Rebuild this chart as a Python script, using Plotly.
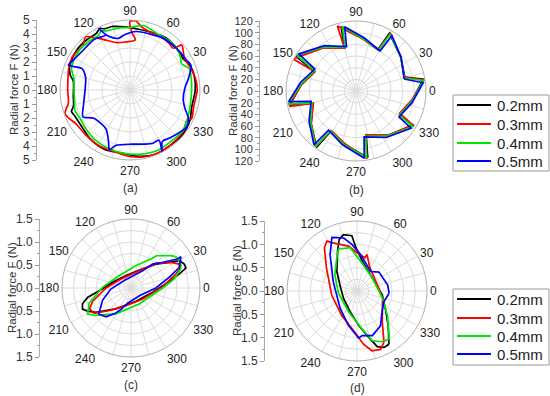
import plotly.graph_objects as go

W, H = 550, 396
series_names = ['0.2mm', '0.3mm', '0.4mm', '0.5mm']
series_colors = ['#000000', '#ff0000', '#00e600', '#0000ff']

# ---------------- panel (a) ----------------
a_black_theta = [0, 13, 22, 31, 42, 55, 69, 82, 95, 105, 113, 116, 121, 130, 143, 158, 166, 171, 186, 196, 200, 206, 218, 231, 247, 262, 277, 292, 305, 320, 333, 345, 360]
a_black_r = [4.66, 4.7, 4.64, 4.4, 4.46, 4.53, 4.4, 4.38, 4.52, 4.7, 4.75, 4.9, 4.7, 4.73, 4.76, 4.64, 4.4, 4.1, 4.07, 4.2, 4.45, 4.35, 4.33, 4.5, 4.62, 4.53, 4.77, 4.95, 4.89, 4.93, 4.8, 4.57, 4.66]
a_red_theta = [0, 10, 20, 30, 36, 41, 44, 50, 60, 72, 80, 85, 90, 88, 84, 95, 105, 118, 125, 130, 137, 148, 160, 170, 180, 192, 200, 205, 212, 225, 240, 255, 270, 285, 300, 315, 325, 332, 335, 345, 360]
a_red_r = [4.8, 4.75, 4.6, 4.5, 4.7, 4.9, 4.3, 4.35, 4.4, 4.4, 4.6, 4.95, 4.9, 4.1, 3.6, 3.45, 3.5, 4.1, 4.6, 4.95, 4.6, 4.75, 4.65, 4.5, 4.45, 4.5, 4.95, 4.8, 4.55, 4.5, 4.55, 4.55, 4.75, 4.9, 4.9, 4.85, 4.75, 4.6, 4.85, 4.7, 4.8]
a_green_theta = [0, 10, 20, 27, 33, 40, 50, 62, 78, 90, 100, 112, 116, 120, 130, 142, 152, 160, 168, 180, 192, 200, 210, 222, 235, 250, 265, 280, 295, 310, 322, 333, 345, 360]
a_green_r = [4.4, 4.45, 4.5, 4.13, 4.3, 4.45, 4.5, 4.45, 4.7, 4.46, 4.5, 4.55, 4.7, 4.5, 4.55, 4.6, 4.55, 4.45, 4.1, 4.0, 4.05, 4.2, 4.1, 4.2, 4.35, 4.45, 4.55, 4.65, 4.75, 4.7, 4.75, 4.6, 4.45, 4.4]
a_blue_theta = [2.5, 10.7, 22, 28, 42, 58, 71.5, 84, 95, 103, 112, 117, 114, 125, 141, 154, 158, 156, 164, 177, 196, 209.7, 218, 238, 247, 251, 256, 272, 285, 292.6, 300, 297.5, 302, 311, 326.8, 334, 341.7, 349.8, 362.5]
a_blue_r = [3.93, 4.24, 4.7, 4.57, 4.46, 4.39, 4.24, 4.2, 3.98, 3.78, 4.16, 4.9, 4.3, 4.43, 4.4, 4.63, 4.75, 3.75, 3.3, 3.2, 3.44, 3.86, 3.28, 3.26, 3.94, 4.49, 4.07, 3.87, 4.0, 4.14, 4.14, 4.98, 4.35, 4.48, 4.83, 4.64, 4.13, 3.86, 3.93]

# ---------------- panel (b) ----------------
b_black_theta = [16, 38, 60, 62, 84, 103, 105, 128, 150, 155, 174, 192, 196, 216, 235, 238, 259, 280, 283, 306, 329, 332, 351, 370, 376]
b_black_r = [87, 97, 114, 81, 92, 113, 76, 94, 119, 78, 95, 117, 77, 95, 118, 81, 94, 116, 78, 94, 114, 85, 98, 117, 87]
b_red_theta = [16, 38, 59, 62, 84, 106, 105, 128, 153, 155, 174, 193, 196, 216, 234, 238, 259, 279, 283, 306, 329, 333, 351, 369, 376]
b_red_r = [86, 97, 115, 80, 91, 116, 76, 93, 121, 78, 95, 117, 76, 95, 118, 80, 93, 117, 77, 94, 113, 84, 97, 118, 86]
b_green_theta = [15, 37, 59, 61, 83, 102, 104, 127, 149, 154, 173, 191, 195, 215, 234, 237, 258, 279, 282, 305, 328, 331, 350, 369, 375]
b_green_r = [86, 96, 114, 80, 91, 113, 77, 94, 118, 79, 95, 118, 78, 95, 118, 81, 94, 116, 79, 94, 115, 85, 98, 117, 86]
b_blue_theta = [14, 36, 57, 59, 81, 100, 102, 125, 147, 152, 171, 189, 193, 213, 232, 235, 256, 277, 280, 303, 326, 329, 348, 367, 374]
b_blue_r = [85, 96, 113, 80, 92, 112, 78, 95, 117, 80, 96, 117, 79, 96, 117, 82, 95, 116, 80, 95, 114, 86, 98, 116, 85]

# ---------------- panel (c) ----------------
c_black_theta = [12, 17.4, 20, 24.2, 29.5, 33.8, 43.8, 65, 112, 163, 185, 192, 198, 203.5, 208, 214.8, 234, 290.6, 348.7, 372]
c_black_r = [0.93, 1.14, 1.27, 1.27, 1.21, 1.0, 0.75, 0.43, 0.29, 0.42, 0.69, 0.96, 1.11, 1.15, 1.07, 0.93, 0.56, 0.31, 0.48, 0.93]
c_red_theta = [17.3, 21.2, 26.4, 32.7, 44.6, 64, 130, 180, 199, 206.7, 214.6, 226, 254, 316.7, 362.4, 377.3]
c_red_r = [1.02, 1.14, 1.17, 1.03, 0.76, 0.42, 0.28, 0.54, 0.88, 1.01, 0.97, 0.68, 0.40, 0.35, 0.69, 1.02]
c_green_theta = [21, 25.6, 34.8, 39, 52, 54.2, 77, 133, 178.7, 200, 211, 218, 240, 297, 360, 372, 381]
c_green_r = [1.16, 1.2, 1.19, 1.12, 0.89, 0.80, 0.50, 0.37, 0.62, 0.97, 1.1, 0.97, 0.65, 0.39, 0.69, 0.96, 1.16]
c_blue_theta = [23, 15.5, 0, -43, -102.3, -117, -123, -131, -141.2, -157, -177, -228, -304, -312, -321, -328.1, -328, -337]
c_blue_r = [1.14, 0.86, 0.54, 0.25, 0.34, 0.55, 0.67, 0.83, 0.90, 0.67, 0.44, 0.22, 0.45, 0.70, 0.89, 1.19, 1.28, 1.14]

# ---------------- panel (d) ----------------
d_black_theta = [301, 312, 326, 351, 400, 440, 452, 455.3, 463.5, 469, 476, 496, 525, 569, 612, 633, 644, 650, 655.6, 661]
d_black_r = [1.33, 1.0, 0.74, 0.55, 0.43, 0.65, 0.96, 1.19, 1.24, 1.17, 0.95, 0.6, 0.37, 0.33, 0.47, 0.74, 1.02, 1.27, 1.34, 1.33]
d_red_theta = [297.8, 309, 343.6, 367, 423, 434.5, 436.8, 450, 460.6, 477.7, 481, 487, 503, 549, 598, 625, 637, 644, 652, 657.8]
d_red_r = [1.24, 0.86, 0.57, 0.47, 0.59, 0.81, 0.73, 0.82, 0.98, 1.17, 1.25, 1.16, 0.82, 0.55, 0.62, 0.85, 1.15, 1.32, 1.35, 1.24]
d_green_theta = [304, 321, 344, 400, 440, 459, 474, 481.5, 503.6, 547, 608, 637.6, 647, 655, 664]
d_green_r = [1.24, 0.84, 0.57, 0.43, 0.61, 0.94, 0.98, 0.83, 0.59, 0.40, 0.48, 0.82, 1.11, 1.2, 1.24]
d_blue_theta = [356, 371, 400.7, 415, 444.7, 456, 464, 475, 486.5, 518, 586, 616, 632, 636.5, 649, 664, 680, 698, 716]
d_blue_r = [0.69, 0.67, 0.62, 0.51, 0.79, 1.0, 1.17, 1.27, 0.97, 0.55, 0.52, 0.76, 1.01, 0.96, 1.01, 0.9, 0.7, 0.62, 0.69]

# ---------------- axes / labels ----------------
angle_tickvals = list(range(0, 360, 15))
angle_ticktext = [str(v) if v % 30 == 0 else '' for v in angle_tickvals]
a_radial_ticks = [-5, -4, -3, -2, -1, 0, 1, 2, 3, 4, 5]
a_radial_text = ['5', '4', '3', '2', '1', '0', '1', '2', '3', '4', '5']
b_radial_ticks = [-120, -100, -80, -60, -40, -20, 0, 20, 40, 60, 80, 100, 120]
b_radial_text = ['120', '100', '80', '60', '40', '20', '0', '20', '40', '60', '80', '100', '120']
cd_radial_ticks = [-1.5, -1.0, -0.5, 0.0, 0.5, 1.0, 1.5]
cd_radial_text = ['1.5', '1.0', '0.5', '0.0', '0.5', '1.0', '1.5']
panel_letters = ['(a)', '(b)', '(c)', '(d)']
axis_title = 'Radial force F (N)'

FONT = 'Arial, Liberation Sans, sans-serif'

panels = [
    dict(pid='polar', cx=130, cy=90, rad=70, rmax=5, rdt=1, minor=0.5, axx=37, tx=14, tfs=12,
         ticks=a_radial_ticks, text=a_radial_text, letter_y=188,
         data=[(a_black_theta, a_black_r), (a_red_theta, a_red_r), (a_green_theta, a_green_r), (a_blue_theta, a_blue_r)],
         shape='spline'),
    dict(pid='polar2', cx=356, cy=91, rad=70, rmax=120, rdt=20, minor=10, axx=260, tx=233, tfs=11,
         ticks=b_radial_ticks, text=b_radial_text, letter_y=190,
         data=[(b_black_theta, b_black_r), (b_red_theta, b_red_r), (b_green_theta, b_green_r), (b_blue_theta, b_blue_r)],
         shape='linear'),
    dict(pid='polar3', cx=131, cy=288, rad=69, rmax=1.5, rdt=0.25, minor=0.25, axx=40, tx=12, tfs=12,
         ticks=cd_radial_ticks, text=cd_radial_text, letter_y=385,
         data=[(c_black_theta, c_black_r), (c_red_theta, c_red_r), (c_green_theta, c_green_r), (c_blue_theta, c_blue_r)],
         shape='linear'),
    dict(pid='polar4', cx=357, cy=291, rad=70, rmax=1.5, rdt=0.25, minor=0.25, axx=265, tx=237, tfs=12,
         ticks=cd_radial_ticks, text=cd_radial_text, letter_y=388,
         data=[(d_black_theta, d_black_r), (d_red_theta, d_red_r), (d_green_theta, d_green_r), (d_blue_theta, d_blue_r)],
         shape='linear'),
]

fig = go.Figure()
layout = dict(width=W, height=H, margin=dict(l=0, r=0, t=0, b=0),
              paper_bgcolor='white', plot_bgcolor='rgba(0,0,0,0)',
              showlegend=False, font=dict(family=FONT, size=12, color='#222'))
annotations = []
shapes = []

for i, p in enumerate(panels):
    n = '' if i == 0 else str(i + 1)
    ydom = [1 - (p['cy'] + p['rad']) / H, 1 - (p['cy'] - p['rad']) / H]
    xdom = [(p['cx'] - p['rad']) / W, (p['cx'] + p['rad']) / W]
    layout[p['pid']] = dict(
        domain=dict(x=xdom, y=ydom),
        bgcolor='white',
        radialaxis=dict(range=[0, p['rmax']], dtick=p['rdt'], showticklabels=False, ticks='',
                        showline=False, gridcolor='#dcdcdc', gridwidth=1),
        angularaxis=dict(tickmode='array', tickvals=angle_tickvals, ticktext=angle_ticktext,
                         ticks='', showline=True, linecolor='#b0b0b0', linewidth=1,
                         gridcolor='#dcdcdc', gridwidth=1,
                         tickfont=dict(size=12, color='#222', family=FONT)),
    )
    for (th, rr), col, nm in zip(p['data'], series_colors, series_names):
        fig.add_trace(go.Scatterpolar(theta=th, r=rr, mode='lines', subplot=p['pid'], name=nm,
                                      line=dict(color=col, width=1.7, shape=p['shape'], smoothing=0.8),
                                      hoverinfo='skip'))
    # left linear radial scale
    fig.add_trace(go.Scatter(x=[0], y=[0], xaxis='x' + n, yaxis='y' + n, mode='markers',
                             marker=dict(size=1, opacity=0), hoverinfo='skip'))
    layout['xaxis' + n] = dict(domain=[p['axx'] / W, (p['axx'] + 2) / W], anchor='y' + n,
                               visible=False, range=[0, 1])
    layout['yaxis' + n] = dict(domain=ydom, anchor='x' + n, range=[-p['rmax'], p['rmax']],
                               tickmode='array', tickvals=p['ticks'], ticktext=p['text'],
                               ticks='outside', ticklen=4, tickcolor='#999', showline=True,
                               linecolor='#aaaaaa', linewidth=1, showgrid=False, zeroline=False,
                               automargin=False, tickfont=dict(size=p['tfs'], color='#333', family=FONT),
                               minor=dict(ticks='outside', ticklen=2, dtick=p['minor'], tick0=0,
                                          tickcolor='#999', showgrid=False))
    annotations.append(dict(text=axis_title, x=p['tx'] / W, y=1 - p['cy'] / H, xref='paper', yref='paper',
                            textangle=-90, showarrow=False, xanchor='center', yanchor='middle',
                            font=dict(size=11.5, color='#333', family=FONT)))
    annotations.append(dict(text=panel_letters[i], x=p['cx'] / W, y=1 - p['letter_y'] / H,
                            xref='paper', yref='paper', showarrow=False, xanchor='center',
                            yanchor='middle', font=dict(size=12, color='#333', family=FONT)))

# legends (two boxes)
for top, rows in ((95, [105, 124, 143, 161]), (289, [299, 318, 336, 354])):
    shapes.append(dict(type='rect', xref='paper', yref='paper', x0=453 / W, x1=549 / W,
                       y0=1 - (top + 76) / H, y1=1 - top / H, line=dict(color='#999', width=1),
                       fillcolor='white'))
    for yy, col, nm in zip(rows, series_colors, series_names):
        shapes.append(dict(type='line', xref='paper', yref='paper', x0=457 / W, x1=491 / W,
                           y0=1 - yy / H, y1=1 - yy / H, line=dict(color=col, width=2)))
        annotations.append(dict(text=nm, x=495 / W, y=1 - yy / H, xref='paper', yref='paper',
                                showarrow=False, xanchor='left', yanchor='middle',
                                font=dict(size=15, color='#222', family=FONT)))

layout['annotations'] = annotations
layout['shapes'] = shapes
fig.update_layout(**layout)
fig.write_html('out.html', config={'displayModeBar': False},
               post_script="document.body.style.margin='0';document.body.style.overflow='hidden';")
